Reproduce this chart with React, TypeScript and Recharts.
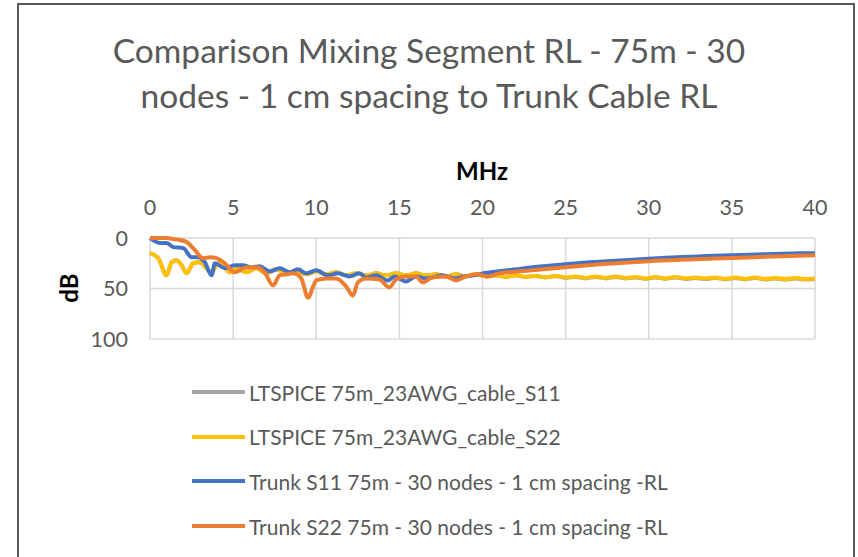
import React from 'react';
import { LineChart, Line, XAxis, YAxis, CartesianGrid } from 'recharts';

// frequency axis (MHz) and return loss (dB)
const xTicks = [0, 5, 10, 15, 20, 25, 30, 35, 40];
const yTicks = [0, 50, 100];

const ltspiceFreq = [
  0, 0.5, 1.0, 1.3, 1.6, 1.9, 2.2, 2.6, 3.0, 3.4, 3.7, 4.1, 4.5, 4.8, 5.2, 5.8, 6.4, 7.0, 7.6, 8.2,
  8.8, 9.4, 10.0, 10.6, 11.2, 11.8, 12.4, 13.0, 13.6, 14.2, 14.8, 15.4, 16.0, 16.6, 17.2, 17.8,
  18.4, 19.0, 19.6, 20.2, 20.8, 21.4, 22.0, 22.6, 23.2, 23.8, 24.4, 25.0, 25.6, 26.2, 26.8, 27.4,
  28.0, 28.6, 29.2, 29.8, 30.4, 31.0, 31.6, 32.2, 32.8, 33.4, 34.0, 34.6, 35.2, 35.8, 36.4, 37.0,
  37.6, 38.2, 38.8, 39.4, 40,
];
const ltspiceS11 = [
  15, 20, 37, 24, 22, 27, 35, 25, 24, 30, 34, 25, 29, 34, 30, 34, 30, 35, 31, 35,
  33, 36, 33, 36, 34, 37, 35, 37, 35, 37, 35, 37, 35, 37, 36, 38,
  36, 38, 36, 38, 37, 38.5, 37, 38.5, 37.5, 39, 37.5, 39.5, 38.5, 40, 38.5, 40,
  38.5, 40, 39, 40.5, 39, 40.5, 39, 40.5, 39.5, 40.5, 39.5, 41, 39.5, 41, 39.5, 41,
  40, 41, 40, 41, 40.5,
];
const ltspiceS22 = [
  15, 20, 37, 24, 22, 27, 35, 25, 24, 30, 34, 25, 29, 34, 30, 34, 30, 35, 31, 35,
  33, 36, 33, 36, 34, 37, 35, 37, 35, 37, 35, 37, 35, 37, 36, 38,
  36, 38, 36, 38, 37, 38.5, 37, 38.5, 37.5, 39, 37.5, 39, 38, 39.5, 38, 39.5,
  38, 39.5, 38.5, 40, 38.5, 40, 38.5, 40, 39, 40, 39, 40.5, 39, 40.5, 39, 40.5,
  39.5, 40.5, 39.5, 40.5, 40,
];

const trunkS11Freq = [
  0, 0.6, 1.0, 1.4, 2.0, 2.5, 2.9, 3.3, 3.7, 3.9, 4.5, 5.1, 5.6, 6.1, 6.6, 7.2, 7.8, 8.4, 8.9, 9.4,
  10.0, 10.7, 11.3, 12.0, 12.6, 13.0, 13.6, 14.3, 14.7, 15.4, 16.0, 16.6, 17.0, 17.6, 18.3, 18.9,
  19.5, 20.0, 20.5, 21, 22, 23, 24, 25, 26, 27, 28, 29, 30, 31, 32, 33, 34, 35, 36, 37, 38, 39, 40,
];
const trunkS11 = [
  0, 5, 5, 9, 10, 19, 19, 24, 37, 25, 30, 27, 27, 29, 28, 33, 30, 34, 31, 35,
  32, 37, 35, 38, 35, 39, 37, 42, 38, 43, 38, 40, 39, 37, 40, 38,
  37, 35, 34, 33, 31, 29, 27.5, 26, 24.5, 23.5, 22.5, 21.5, 20.5, 19.5, 18.8, 18.2, 17.6, 17, 16.5, 16, 15.5, 15.2, 15,
];

const trunkS22Freq = [
  0, 1.0, 1.4, 1.8, 2.2, 2.7, 3.2, 3.6, 4.0, 4.5, 5.1, 5.6, 6.0, 6.4, 6.9, 7.4, 7.8, 8.2, 8.6, 9.1,
  9.5, 10.0, 10.6, 11.2, 11.8, 12.2, 12.5, 13.0, 13.8, 14.4, 14.8, 15.4, 16.0, 16.4, 17.0, 17.8,
  18.4, 19.0, 19.7, 20.3, 21.0, 21.5, 22, 23, 24, 25, 26, 27, 28, 29, 30, 32, 34, 36, 38, 40,
];
const trunkS22 = [
  0, 0, 1, 2, 4, 12, 20, 19, 20, 25, 34, 30, 29, 29, 34, 47, 37, 36, 35, 40,
  59, 42, 40, 40, 48, 57, 44, 40, 41, 49, 41, 38, 38, 44, 39, 38,
  42, 38, 36, 38, 35, 34, 33.5, 32, 30.5, 29, 27.5, 26, 25, 24, 23, 21.5, 20.3, 19.2, 18, 17,
];

const series = [
  { name: 'LTSPICE 75m_23AWG_cable_S11', color: '#a5a5a5', freq: ltspiceFreq, values: ltspiceS11 },
  { name: 'LTSPICE 75m_23AWG_cable_S22', color: '#ffc000', freq: ltspiceFreq, values: ltspiceS22 },
  { name: 'Trunk S11 75m - 30 nodes - 1 cm spacing -RL', color: '#4472c4', freq: trunkS11Freq, values: trunkS11 },
  { name: 'Trunk S22 75m - 30 nodes - 1 cm spacing -RL', color: '#ed7d31', freq: trunkS22Freq, values: trunkS22 },
];

const FONT = 'Lato, "Open Sans", sans-serif';
const TEXT = '#595959';

export default function App() {
  return (
    <div
      style={{
        position: 'fixed',
        left: 0,
        top: 0,
        width: 858,
        height: 557,
        overflow: 'hidden',
        background: '#fff',
        fontFamily: FONT,
        color: TEXT,
      }}
    >
      {/* chart frame, cut off at right/bottom in the original */}
      <div
        style={{
          position: 'absolute',
          left: 17,
          top: 3,
          width: 834,
          height: 600,
          border: '2px solid #595959',
        }}
      />

      <div
        style={{
          position: 'absolute',
          left: 0,
          top: 28,
          width: 858,
          textAlign: 'center',
          fontSize: 33.5,
          lineHeight: '45px',
        }}
      >
        Comparison Mixing Segment RL - 75m - 30
        <br />
        nodes - 1 cm spacing to Trunk Cable RL
      </div>

      <LineChart
        width={858}
        height={557}
        margin={{ top: 198, right: 43, bottom: 218, left: 100 }}
        style={{ position: 'absolute', left: 0, top: 0 }}
      >
        <CartesianGrid stroke="#d9d9d9" strokeWidth={1.5} />
        <XAxis
          dataKey="f"
          type="number"
          orientation="top"
          domain={[0, 40]}
          ticks={xTicks}
          height={40}
          axisLine={false}
          tickLine={false}
          tickMargin={17}
          tick={{ fill: TEXT, fontSize: 21.5, fontFamily: FONT }}
          allowDuplicatedCategory={false}
        />
        <YAxis
          type="number"
          domain={[0, 100]}
          ticks={yTicks}
          reversed
          width={50}
          axisLine={false}
          tickLine={false}
          tickMargin={16}
          tick={{ fill: TEXT, fontSize: 21.5, fontFamily: FONT }}
        />
        {series.map((s) => (
          <Line
            key={s.name}
            data={s.freq.map((f, i) => ({ f, db: s.values[i] }))}
            dataKey="db"
            type="monotone"
            stroke={s.color}
            strokeWidth={4}
            dot={false}
            isAnimationActive={false}
          />
        ))}
      </LineChart>

      <div
        style={{
          position: 'absolute',
          left: 482,
          top: 170,
          transform: 'translate(-50%, -50%)',
          fontSize: 24,
          fontWeight: 700,
          color: '#000',
        }}
      >
        MHz
      </div>
      <div
        style={{
          position: 'absolute',
          left: 68,
          top: 288,
          transform: 'translate(-50%, -50%) rotate(-90deg)',
          fontSize: 24,
          fontWeight: 700,
          color: '#000',
        }}
      >
        dB
      </div>

      {series.map((s, i) => (
        <div
          key={s.name}
          style={{
            position: 'absolute',
            left: 192,
            top: 392 + i * 44.7 - 15,
            height: 30,
            display: 'flex',
            alignItems: 'center',
            fontSize: 21,
            whiteSpace: 'nowrap',
          }}
        >
          <span style={{ display: 'inline-block', width: 53, height: 4, background: s.color, marginRight: 4 }} />
          {s.name}
        </div>
      ))}
    </div>
  );
}
